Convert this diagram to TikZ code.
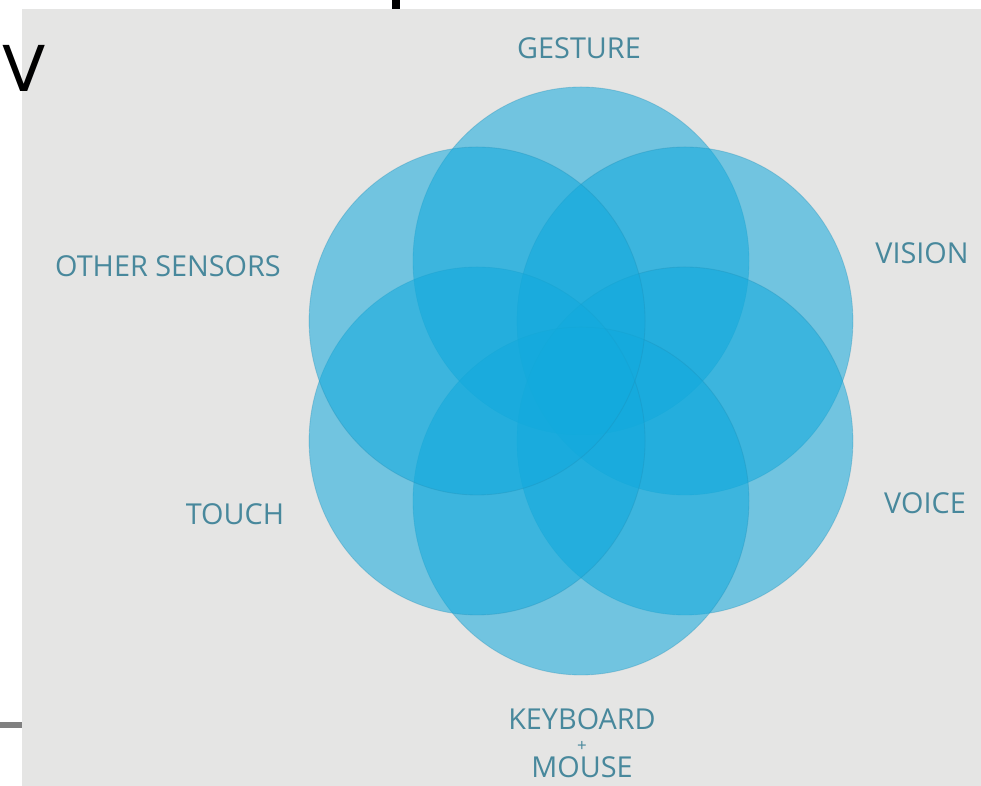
\documentclass[tikz,border=0pt]{standalone}
\usepackage{fontspec}
\setmainfont{Open Sans}
\newfontfamily\markfont{DejaVu Sans}
\usetikzlibrary{calc}
\definecolor{page}{RGB}{229,229,228}
\definecolor{petal}{RGB}{18,170,221}
\definecolor{petaledge}{RGB}{30,140,180}
\definecolor{tag}{RGB}{72,136,156}
\definecolor{rule}{RGB}{128,128,128}
\tikzset{
  petal/.style={fill=petal,fill opacity=0.55,draw=petaledge,draw opacity=0.3,line width=0.6pt},
  mlabel/.style={tag,font=\fontsize{20.5}{19.5}\selectfont,inner sep=0pt},
}

\begin{document}
\begin{tikzpicture}[x=0.025cm,y=0.025cm]
  \clip (0,0) rectangle (981,786);
  \fill[white] (0,0) rectangle (981,786);
  \fill[page] (22,0) rectangle (981,777);
  % bits of the frame around the slide
  \fill[black] (392,777) rectangle (400,786);
  \fill[rule] (0,58) rectangle (22,64);
  \node[font=\markfont\fontsize{45}{45}\selectfont,anchor=base west,inner sep=0pt] (mark) at (2,694) {V};
  % six overlapping petals
  \coordinate (c) at (581,405);
  \foreach \a in {90,30,-30,-90,-150,150}
    \filldraw[petal] ($(c)+(\a:120)$) ellipse [x radius=168,y radius=174];
  \node[mlabel] (gesture) at (579,738) {GESTURE};
  \node[mlabel] (vision) at (922,533) {VISION};
  \node[mlabel] (voice) at (925,283) {VOICE};
  \node[mlabel] (touch) at (235,272) {TOUCH};
  \node[mlabel] (sensors) at (168,520) {OTHER SENSORS};
  \node[mlabel] (keyboard) at (582,67) {KEYBOARD};
  \node[mlabel,font=\fontsize{12}{12}\selectfont] (plus) at (582,40) {+};
  \node[mlabel] (mouse) at (582,19) {MOUSE};
\end{tikzpicture}
\end{document}
